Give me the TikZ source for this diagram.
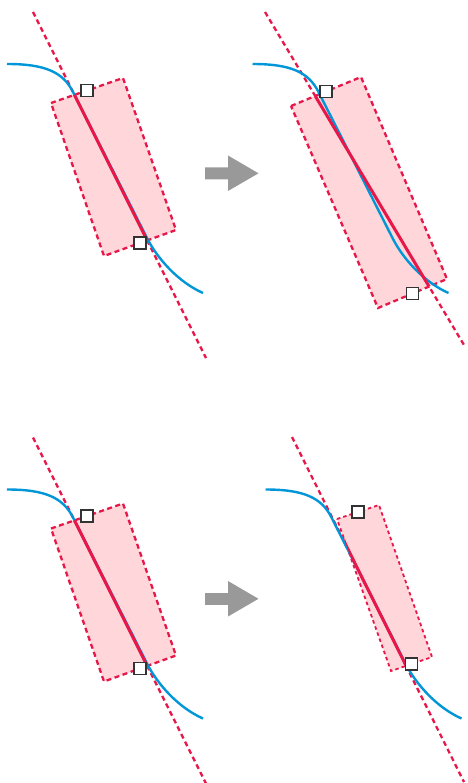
\documentclass[tikz,border=0pt]{standalone}
\usepackage{xcolor}
\definecolor{fitRed}{HTML}{E8174A}
\definecolor{fitPink}{HTML}{FFD6D9}
\definecolor{fitBlue}{HTML}{0096D8}
\definecolor{fitGray}{HTML}{999999}
\usepackage{tikz}
\usetikzlibrary{calc}

% the same curve in every panel, moved by a shift
\newcommand{\fitcurve}{(7,64) .. controls (45,64) and (63,72) .. (73,92) -- (147,238) .. controls (157,258) and (178,282) .. (203,293)}

\begin{document}
\begin{tikzpicture}[x=1pt, y=-1pt,
    guide/.style={fitRed, line width=2.3pt, dash pattern=on 5pt off 3.5pt},
    box/.style={fill=fitPink, draw=fitRed, line width=2.3pt, dash pattern=on 5pt off 3.5pt},
    thinbox/.style={box, line width=1.8pt, dash pattern=on 3.5pt off 3pt},
    curve/.style={fitBlue, line width=2.4pt},
    segment/.style={fitRed, line width=3pt},
    handle/.style={draw=black!80, fill=white, line width=1.8pt, minimum size=12pt, inner sep=0pt},
    pointer/.style={fill=fitGray}]
  \useasboundingbox (0,0) rectangle (467,783);
  % ------- left column: box follows the curve -------
  \foreach \dy/\k in {0/1, 425.5/3} {
    \begin{scope}[shift={(0,\dy)}]
      \coordinate (a\k) at (51,103);
      \coordinate (b\k) at (123,78);
      \coordinate (c\k) at (176,230);
      \coordinate (d\k) at (104,256);
      \coordinate (s\k) at (33,12);
      \coordinate (e\k) at (206,358);
      \draw[guide] (s\k) -- (e\k);
      \draw[box] (a\k) -- (b\k) -- (c\k) -- (d\k) -- cycle;
      \draw[curve] \fitcurve;
      \begin{scope}
        \clip (a\k) -- (b\k) -- (c\k) -- (d\k) -- cycle;
        \draw[segment] (s\k) -- (e\k);
      \end{scope}
      \node[handle] (top\k) at ($(a\k)!0.5!(b\k)$) {};
      \node[handle] (bot\k) at ($(d\k)!0.5!(c\k)$) {};
      % block arrow to the right panel
      \fill[pointer] (205,167.5) -- (228,167.5) -- (228,155.5) -- (258.5,173.3)
        -- (228,191) -- (228,179.3) -- (205,179.3) -- cycle;
    \end{scope}
  }
  % ------- top right: box turned and stretched -------
  \coordinate (a2) at (291,106);
  \coordinate (b2) at (361,77);
  \coordinate (c2) at (447,279);
  \coordinate (d2) at (378,308);
  \coordinate (s2) at (265,12);
  \coordinate (e2) at (464,345);
  \draw[guide] (s2) -- (e2);
  \draw[box] (a2) -- (b2) -- (c2) -- (d2) -- cycle;
  \draw[curve, shift={(245.5,0)}] \fitcurve;
  \begin{scope}
    \clip (a2) -- (b2) -- (c2) -- (d2) -- cycle;
    \draw[segment] (s2) -- (e2);
  \end{scope}
  \node[handle] (top2) at ($(a2)!0.5!(b2)$) {};
  \node[handle] (bot2) at ($(d2)!0.5!(c2)$) {};
  % ------- bottom right: box narrowed -------
  \coordinate (a4) at (337,519);
  \coordinate (b4) at (379,505);
  \coordinate (c4) at (432,657);
  \coordinate (d4) at (391,671);
  \coordinate (s4) at (292,437);
  \coordinate (e4) at (464,782);
  \draw[guide] (s4) -- (e4);
  \draw[thinbox] (a4) -- (b4) -- (c4) -- (d4) -- cycle;
  \draw[curve, shift={(258.5,425.5)}] \fitcurve;
  \begin{scope}
    \clip (a4) -- (b4) -- (c4) -- (d4) -- cycle;
    \draw[segment] (s4) -- (e4);
  \end{scope}
  \node[handle] (top4) at ($(a4)!0.5!(b4)$) {};
  \node[handle] (bot4) at ($(d4)!0.5!(c4)$) {};
\end{tikzpicture}
\end{document}
